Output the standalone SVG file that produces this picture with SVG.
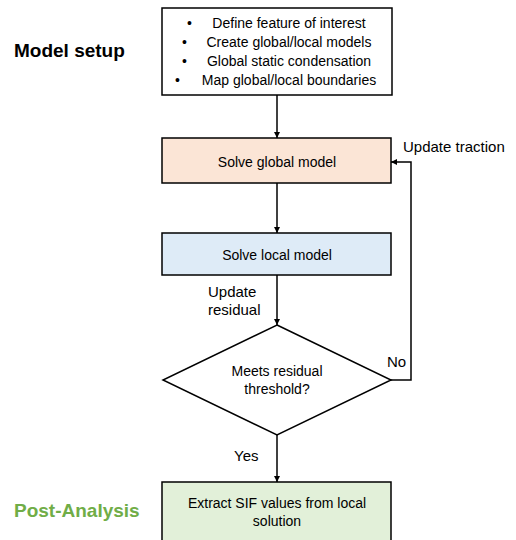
<svg xmlns="http://www.w3.org/2000/svg" width="516" height="540" viewBox="0 0 516 540">
<style>
.box{stroke:#000;stroke-width:1.5}
.t{font-family:"Liberation Sans",Arial,sans-serif;font-size:14px;fill:#000}
.c{text-anchor:middle}
.lab{font-family:"Liberation Sans",Arial,sans-serif;font-size:15px;fill:#000}
.head{font-family:"Liberation Sans",Arial,sans-serif;font-size:19px;font-weight:bold}
.ln{stroke:#000;stroke-width:1.5;fill:none;marker-end:url(#ah)}
</style>
<defs>
<marker id="ah" viewBox="0 0 10 10" refX="10" refY="5" markerWidth="6" markerHeight="6" markerUnits="userSpaceOnUse" orient="auto">
<path d="M0,0 L10,5 L0,10 z" fill="#000"/>
</marker>
</defs>
<rect width="516" height="540" fill="#fff"/>
<text class="head" x="14" y="57" fill="#000">Model setup</text>
<text class="head" x="14" y="517" fill="#70AD47">Post-Analysis</text>
<g id="setup">
<rect class="box" x="162" y="8" width="230" height="87" fill="#fff"/>
<text class="t" x="187" y="28">•</text>
<text class="t c" x="289" y="28">Define feature of interest</text>
<text class="t" x="182" y="47">•</text>
<text class="t c" x="289" y="47">Create global/local models</text>
<text class="t" x="182" y="66">•</text>
<text class="t c" x="289" y="66">Global static condensation</text>
<text class="t" x="175" y="85">•</text>
<text class="t c" x="289" y="85">Map global/local boundaries</text>
</g>
<g id="global">
<rect class="box" x="162" y="138" width="229" height="45" fill="#FBE5D6"/>
<text class="t c" x="277" y="167">Solve global model</text>
</g>
<g id="local">
<rect class="box" x="162" y="233" width="229" height="42" fill="#DEEBF7"/>
<text class="t c" x="277" y="260">Solve local model</text>
</g>
<g id="decision">
<polygon class="box" points="277,325 391,380 277,435 163,380" fill="#fff"/>
<text class="t c" x="277" y="376">Meets residual</text>
<text class="t c" x="277" y="394">threshold?</text>
</g>
<g id="extract">
<rect class="box" x="162" y="482" width="229" height="70" fill="#E2F0D9"/>
<text class="t c" x="277" y="508">Extract SIF values from local</text>
<text class="t c" x="277" y="526">solution</text>
</g>
<g id="connectors">
<line class="ln" x1="277" y1="95" x2="277" y2="138"/>
<line class="ln" x1="277" y1="183" x2="277" y2="233"/>
<line class="ln" x1="277" y1="275" x2="277" y2="325"/>
<line class="ln" x1="277" y1="435" x2="277" y2="482"/>
<polyline class="ln" points="391,380 411,380 411,162 391,162"/>
<text class="lab" x="403" y="152">Update traction</text>
<text class="lab" x="208" y="297">Update</text>
<text class="lab" x="208" y="315">residual</text>
<text class="lab" x="387" y="367">No</text>
<text class="lab" x="234" y="461">Yes</text>
</g>
</svg>
